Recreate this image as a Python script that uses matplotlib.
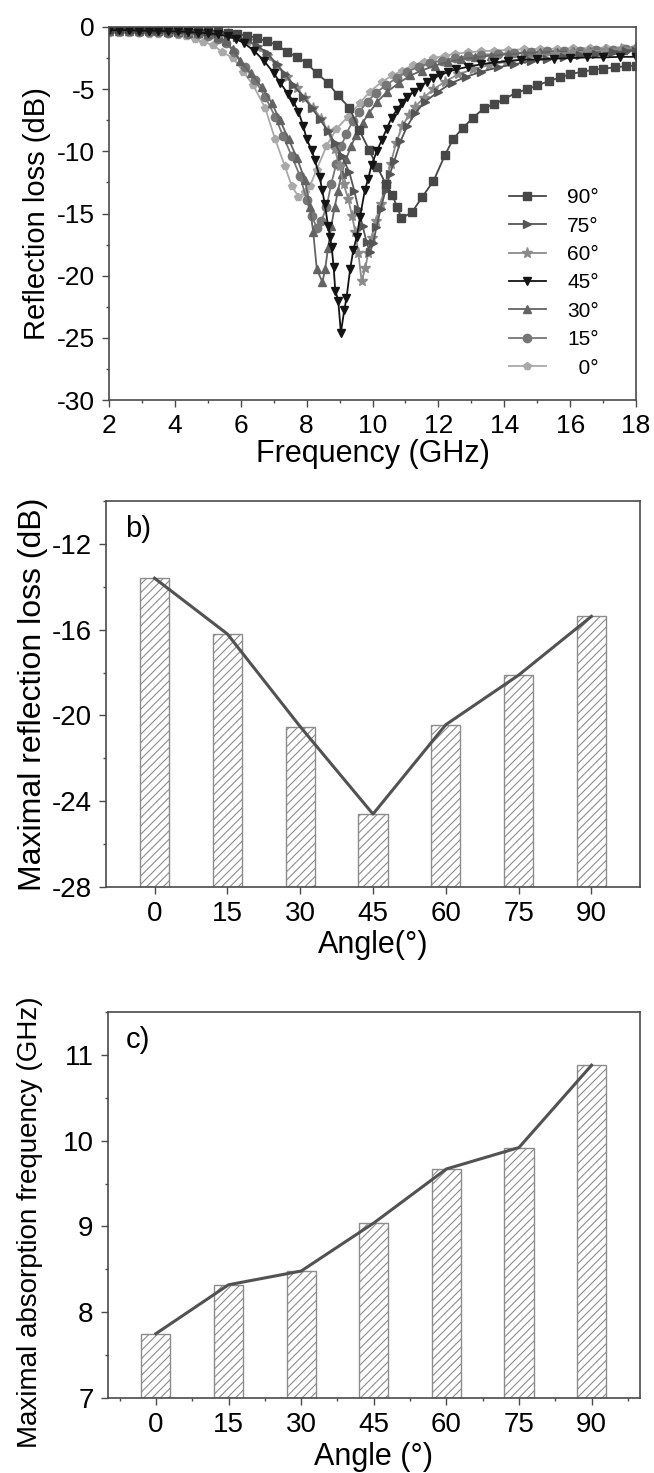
import numpy as np
import matplotlib.pyplot as plt
from matplotlib.ticker import MultipleLocator

# reflection loss curves, one per incidence angle (GHz, dB)
f_90 = [2.0, 2.3, 2.6, 2.9, 3.2, 3.5, 3.8, 4.1, 4.4, 4.7, 5.0, 5.3, 5.6, 5.9, 6.2, 6.5, 6.8, 7.1,
        7.4, 7.7, 8.0, 8.3, 8.65, 8.95, 9.3, 9.6, 9.9, 10.15, 10.4, 10.6, 10.75, 10.88, 11.2, 11.5,
        11.85, 12.2, 12.45, 12.75, 13.05, 13.4, 13.7, 14.0, 14.35, 14.7, 15.0, 15.35, 15.7, 16.0,
        16.35, 16.7, 17.0, 17.35, 17.7, 18.0]
rl_90 = [-0.15, -0.15, -0.15, -0.15, -0.15, -0.2, -0.2, -0.2, -0.2, -0.25, -0.3, -0.35, -0.45,
         -0.55, -0.7, -0.9, -1.15, -1.45, -2.0, -2.4, -2.9, -3.7, -4.5, -5.5, -6.5, -8.3, -9.9,
         -11.3, -12.6, -13.5, -14.5, -15.38, -14.9, -13.7, -12.4, -10.3, -9.0, -8.1, -7.3, -6.5,
         -6.2, -5.8, -5.3, -5.0, -4.7, -4.35, -4.05, -3.8, -3.6, -3.45, -3.35, -3.25, -3.15, -3.1]

f_75 = [2.0, 2.3, 2.6, 2.9, 3.2, 3.5, 3.8, 4.1, 4.4, 4.7, 5.0, 5.3, 5.6, 5.9, 6.2, 6.5, 6.8, 7.1,
        7.35, 7.6, 7.9, 8.15, 8.4, 8.65, 8.85, 9.07, 9.3, 9.45, 9.57, 9.7, 9.82, 9.92, 10.02, 10.12,
        10.25, 10.4, 10.53, 10.66, 10.85, 11.05, 11.3, 11.6, 12.0, 12.4, 12.85, 13.3, 13.8, 14.3,
        14.8, 15.3, 15.8, 16.3, 16.8, 17.3, 17.7, 18.0]
rl_75 = [-0.2, -0.2, -0.2, -0.2, -0.25, -0.25, -0.25, -0.3, -0.3, -0.35, -0.4, -0.5, -0.6, -0.8,
         -1.1, -1.5, -2.1, -3.0, -3.8, -4.7, -5.6, -6.5, -7.4, -8.4, -9.3, -10.4, -11.7, -13.2,
         -14.6, -16.0, -17.3, -18.12, -17.4, -16.1, -14.6, -13.1, -11.8, -10.8, -9.2, -8.0, -6.9,
         -6.0, -5.2, -4.5, -4.0, -3.6, -3.25, -3.0, -2.75, -2.55, -2.4, -2.25, -2.15, -2.05, -1.95,
         -1.9]

f_60 = [2.0, 2.3, 2.6, 2.9, 3.2, 3.5, 3.8, 4.1, 4.4, 4.7, 5.0, 5.3, 5.6, 5.9, 6.2, 6.5, 6.8, 7.1,
        7.4, 7.7, 7.95, 8.2, 8.45, 8.65, 8.85, 9.0, 9.12, 9.26, 9.38, 9.48, 9.57, 9.67, 9.78, 9.87,
        9.97, 10.1, 10.25, 10.4, 10.55, 10.72, 10.9, 11.1, 11.3, 11.55, 11.85, 12.2, 12.6, 13.05,
        13.55, 14.05, 14.55, 15.05, 15.55, 16.05, 16.55, 17.05, 17.55, 18.0]
rl_60 = [-0.2, -0.2, -0.2, -0.2, -0.25, -0.25, -0.25, -0.3, -0.3, -0.35, -0.4, -0.5, -0.6, -0.8,
         -1.1, -1.6, -2.3, -3.1, -4.0, -4.9, -5.7, -6.5, -7.4, -8.4, -9.8, -11.2, -12.6, -13.8,
         -15.2, -16.5, -18.2, -20.43, -19.4, -18.2, -17.0, -15.6, -14.2, -12.6, -11.0, -9.3, -8.0,
         -7.1, -6.4, -5.7, -5.0, -4.4, -3.8, -3.4, -3.05, -2.8, -2.55, -2.35, -2.2, -2.05, -1.95,
         -1.85, -1.75, -1.65]

f_45 = [2.0, 2.3, 2.6, 2.9, 3.2, 3.5, 3.8, 4.1, 4.4, 4.7, 5.0, 5.3, 5.6, 5.85, 6.1, 6.4, 6.7, 7.0,
        7.2, 7.44, 7.6, 7.75, 7.9, 8.0, 8.15, 8.25, 8.4, 8.47, 8.55, 8.65, 8.71, 8.76, 8.82, 8.87,
        8.96, 9.04, 9.14, 9.21, 9.32, 9.42, 9.52, 9.62, 9.77, 9.87, 9.97, 10.13, 10.28, 10.43,
        10.58, 10.73, 10.9, 11.05, 11.25, 11.45, 11.65, 11.85, 12.05, 12.3, 12.55, 12.9, 13.3,
        13.7, 14.1, 14.5, 15.0, 15.5, 16.0, 16.5, 17.0, 17.5, 18.0]
rl_45 = [-0.25, -0.25, -0.25, -0.3, -0.3, -0.3, -0.35, -0.35, -0.4, -0.45, -0.5, -0.6, -0.75,
         -0.95, -1.3, -1.9, -2.7, -3.7, -4.5, -5.4, -6.0, -6.8, -8.0, -9.0, -9.9, -10.7, -12.1,
         -13.1, -14.2, -16.0, -16.9, -17.7, -19.3, -21.2, -22.0, -24.6, -22.8, -21.8, -19.5, -17.9,
         -16.9, -15.3, -13.1, -12.2, -11.1, -10.0, -9.1, -8.2, -7.3, -6.7, -6.1, -5.6, -5.2, -4.8,
         -4.4, -4.1, -3.9, -3.6, -3.4, -3.2, -3.0, -2.85, -2.75, -2.65, -2.6, -2.55, -2.5, -2.45,
         -2.45, -2.4, -2.4]

f_30 = [2.0, 2.3, 2.6, 2.9, 3.2, 3.5, 3.8, 4.1, 4.4, 4.7, 5.0, 5.3, 5.55, 5.75, 5.97, 6.3, 6.63,
        6.94, 7.19, 7.45, 7.7, 7.95, 8.1, 8.2, 8.31, 8.48, 8.56, 8.65, 8.75, 8.85, 8.95, 9.06, 9.2,
        9.35, 9.5, 9.7, 9.9, 10.15, 10.45, 10.8, 11.15, 11.5, 11.9, 12.3, 12.7, 13.1, 13.6, 14.1,
        14.6, 15.1, 15.6, 16.1, 16.6, 17.1, 17.6, 18.0]
rl_30 = [-0.3, -0.3, -0.3, -0.35, -0.35, -0.35, -0.4, -0.4, -0.45, -0.5, -0.6, -0.8, -1.1, -1.8,
         -2.7, -3.7, -4.8, -6.1, -7.5, -9.0, -10.5, -12.3, -14.5, -16.5, -19.5, -20.52, -19.5,
         -17.8, -16.0, -14.5, -13.2, -11.8, -10.6, -9.6, -8.7, -7.7, -6.9, -6.0, -5.2, -4.5, -3.9,
         -3.5, -3.1, -2.8, -2.6, -2.45, -2.3, -2.2, -2.1, -2.05, -2.0, -1.95, -1.9, -1.9, -1.85,
         -1.85]

f_15 = [2.0, 2.3, 2.6, 2.9, 3.2, 3.5, 3.8, 4.1, 4.4, 4.7, 5.0, 5.3, 5.55, 5.8, 6.13, 6.43, 6.74,
        7.04, 7.29, 7.55, 7.8, 8.0, 8.15, 8.32, 8.45, 8.6, 8.75, 8.9, 9.05, 9.2, 9.4, 9.6, 9.85,
        10.1, 10.4, 10.73, 11.05, 11.4, 11.75, 12.1, 12.5, 12.9, 13.3, 13.8, 14.3, 14.8, 15.3,
        15.8, 16.3, 16.8, 17.3, 17.7, 18.0]
rl_15 = [-0.35, -0.35, -0.35, -0.4, -0.4, -0.4, -0.45, -0.5, -0.55, -0.6, -0.75, -0.95, -1.3,
         -2.0, -3.2, -4.3, -5.6, -7.2, -8.8, -10.4, -12.0, -13.9, -15.2, -16.2, -15.6, -14.5,
         -12.6, -11.0, -9.6, -8.6, -7.6, -6.8, -6.0, -5.3, -4.7, -4.1, -3.6, -3.2, -2.9, -2.7,
         -2.5, -2.35, -2.25, -2.15, -2.1, -2.0, -1.95, -1.9, -1.9, -1.85, -1.85, -1.8, -1.8]

f_0 = [2.0, 2.3, 2.6, 2.9, 3.2, 3.5, 3.8, 4.1, 4.35, 4.6, 4.86, 5.17, 5.42, 5.77, 6.08, 6.38,
       6.74, 7.04, 7.34, 7.55, 7.75, 7.95, 8.1, 8.3, 8.6, 8.9, 9.26, 9.62, 9.92, 10.29, 10.6, 10.9,
       11.23, 11.55, 11.85, 12.2, 12.5, 12.9, 13.3, 13.7, 14.1, 14.6, 15.1, 15.6, 16.1, 16.6,
       17.1, 17.6, 18.0]
rl_0 = [-0.45, -0.45, -0.5, -0.5, -0.55, -0.6, -0.6, -0.65, -0.75, -0.95, -1.2, -1.45, -2.0,
        -2.5, -3.6, -4.7, -6.5, -9.0, -11.2, -12.8, -13.64, -13.3, -12.8, -11.5, -9.6, -8.2,
        -7.2, -6.1, -5.2, -4.4, -3.9, -3.5, -3.06, -2.8, -2.5, -2.3, -2.15, -2.05, -1.95, -1.9,
        -1.85, -1.8, -1.75, -1.75, -1.7, -1.7, -1.65, -1.65, -1.6]

# peak values versus angle
angles = [0, 15, 30, 45, 60, 75, 90]
max_rl = [-13.6, -16.2, -20.52, -24.6, -20.43, -18.12, -15.38]
max_freq = [7.75, 8.32, 8.48, 9.04, 9.67, 9.92, 10.88]

plt.rcParams['font.family'] = ['Liberation Sans', 'DejaVu Sans']
plt.rcParams['axes.unicode_minus'] = False
plt.rcParams['hatch.color'] = '#8c8c8c'
plt.rcParams['hatch.linewidth'] = 0.8

spine_c = '#4a4a4a'


def style_axes(ax, size):
    for s in ax.spines.values():
        s.set_color(spine_c)
        s.set_linewidth(1.2)
    ax.tick_params(which='both', direction='out', top=False, right=False,
                   color=spine_c, width=1.0)
    ax.tick_params(which='major', length=5, labelsize=size, pad=5)
    ax.tick_params(which='minor', length=2.5)


fig = plt.figure(figsize=(6.54, 14.73), dpi=100)

# a) reflection loss spectra
ax1 = fig.add_axes([109 / 654, 1 - 400 / 1473, 527 / 654, 373 / 1473])
curves = [
    (f_0, rl_0, 'p', '#a9a9a9', '  0°'),
    (f_15, rl_15, 'o', '#767676', '15°'),
    (f_30, rl_30, '^', '#636363', '30°'),
    (f_60, rl_60, '*', '#8a8a8a', '60°'),
    (f_75, rl_75, '>', '#555555', '75°'),
    (f_90, rl_90, 's', '#474747', '90°'),
    (f_45, rl_45, 'v', '#141414', '45°'),
]
handles = {}
for f, rl, mk, col, lab in curves:
    ms = 8 if mk == '*' else 6
    h, = ax1.plot(f, rl, marker=mk, color=col, markersize=ms, lw=1.3, label=lab)
    handles[lab] = h
order = ['90°', '75°', '60°', '45°', '30°', '15°', '  0°']
ax1.legend([handles[k] for k in order], order, loc='lower right',
           bbox_to_anchor=(0.965, 0.01), frameon=False, fontsize=15,
           labelspacing=0.45, handlelength=1.8, handletextpad=1.0)
ax1.set_xlim(2, 18)
ax1.set_ylim(-30, 0)
ax1.xaxis.set_major_locator(MultipleLocator(2))
ax1.xaxis.set_minor_locator(MultipleLocator(1))
ax1.yaxis.set_major_locator(MultipleLocator(5))
ax1.yaxis.set_minor_locator(MultipleLocator(2.5))
style_axes(ax1, 19)
ax1.set_xlabel('Frequency (GHz)', fontsize=22, labelpad=1)
ax1.set_ylabel('Reflection loss (dB)', fontsize=21, labelpad=4)

# b) maximal reflection loss
ax2 = fig.add_axes([106 / 654, 1 - 887 / 1473, 534 / 654, 386 / 1473])
rl_floor = -28
ax2.bar(angles, [v - rl_floor for v in max_rl], bottom=rl_floor, width=6,
        color='white', edgecolor='#8c8c8c', hatch='////', linewidth=1.0, zorder=2)
ax2.plot(angles, max_rl, color='#525252', lw=2.2, zorder=3)
ax2.set_xlim(-10, 100)
ax2.set_ylim(-28, -10)
ax2.set_xticks(angles)
ax2.yaxis.set_major_locator(MultipleLocator(4))
ax2.yaxis.set_minor_locator(MultipleLocator(2))
style_axes(ax2, 20)
ax2.set_xlabel('Angle(°)', fontsize=22, labelpad=2)
ax2.set_ylabel('Maximal reflection loss (dB)', fontsize=23, labelpad=3)
ax2.text(0.035, 0.965, 'b)', transform=ax2.transAxes, fontsize=21, ha='left', va='top')

# c) maximal absorption frequency
ax3 = fig.add_axes([107.5 / 654, 1 - 1398 / 1473, 532.5 / 654, 386 / 1473])
f_floor = 7
ax3.bar(angles, [v - f_floor for v in max_freq], bottom=f_floor, width=6,
        color='white', edgecolor='#8c8c8c', hatch='////', linewidth=1.0, zorder=2)
ax3.plot(angles, max_freq, color='#525252', lw=2.2, zorder=3)
ax3.set_xlim(-10, 100)
ax3.set_ylim(7, 11.5)
ax3.set_xticks(angles)
ax3.xaxis.set_minor_locator(MultipleLocator(7.5))
ax3.yaxis.set_major_locator(MultipleLocator(1))
ax3.yaxis.set_minor_locator(MultipleLocator(0.5))
style_axes(ax3, 20)
ax3.set_xlabel('Angle (°)', fontsize=22, labelpad=3)
ax3.set_ylabel('Maximal absorption frequency (GHz)', fontsize=20)
ax3.yaxis.set_label_coords(-0.122, 0.455)
ax3.text(0.035, 0.965, 'c)', transform=ax3.transAxes, fontsize=21, ha='left', va='top')

fig.savefig('out.png', dpi=100)
